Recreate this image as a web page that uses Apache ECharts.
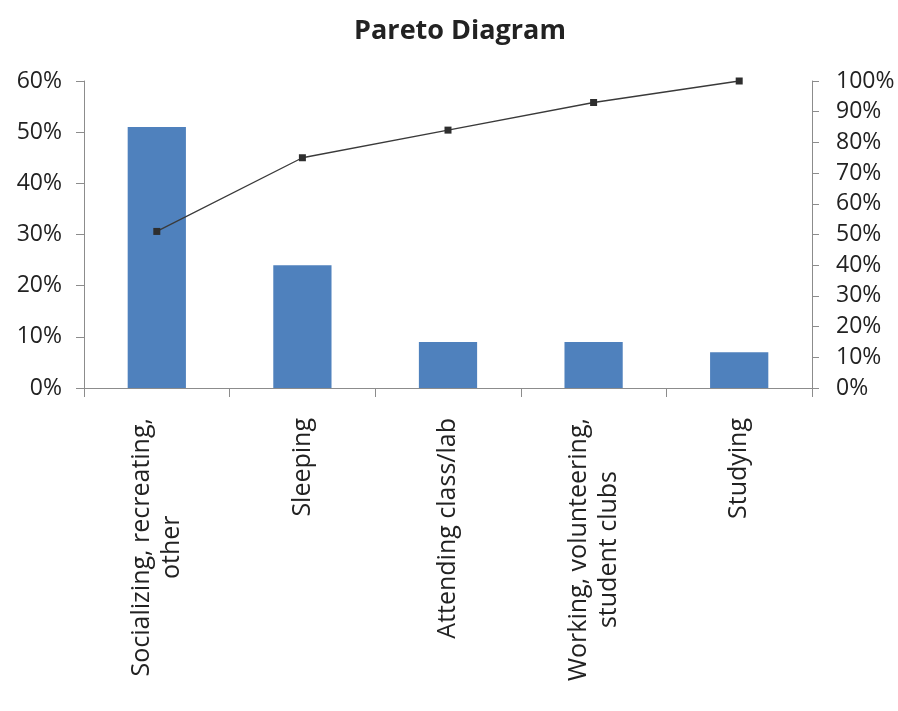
<!DOCTYPE html>
<html>
<head>
    <meta charset="UTF-8" />
    <title>Pareto Diagram</title>
    <script src="https://cdn.jsdelivr.net/npm/echarts@6/dist/echarts.min.js"></script>
    <style>
        html, body { margin: 0; padding: 0; background: #fff; }
        #main { width: 898px; height: 711px; }
    </style>
</head>
<body>
    <div id="main"></div>
    <script>
    // categories (multi-line labels as in the picture)
    var categories = [
        'Socializing, recreating,\nother',
        'Sleeping',
        'Attending class/lab',
        'Working, volunteering,\nstudent clubs',
        'Studying'
    ];
    // share of time, percent
    var shareValues = [51, 24, 9, 9, 7];
    // cumulative percent
    var cumulativeValues = [51, 75, 84, 93, 100];

    var axisGray = '#8c8c8c';
    var textColor = '#222';
    var fontFam = '"Open Sans", "Liberation Sans", sans-serif';

    var myChart = echarts.init(document.getElementById('main'));
    myChart.setOption({
        animation: false,
        backgroundColor: '#fff',
        title: {
            text: 'Pareto Diagram',
            left: 455,
            textAlign: 'center',
            top: 13,
            textStyle: { fontSize: 27, fontWeight: 'bold', color: textColor, fontFamily: fontFam }
        },
        grid: { left: 84, right: 86, top: 81, bottom: 323 },
        xAxis: {
            type: 'category',
            data: categories,
            axisLine: { lineStyle: { color: axisGray } },
            axisTick: { show: true, length: 9, lineStyle: { color: axisGray } },
            axisLabel: {
                interval: 0,
                rotate: 90,
                margin: 30,
                color: textColor,
                fontSize: 25,
                fontFamily: fontFam,
                formatter: function (v) {
                    return v.split('\n').map(function (s) { return '{c|' + s + '}'; }).join('\n');
                },
                rich: {
                    c: { align: 'center', fontSize: 25, color: textColor, fontFamily: fontFam, lineHeight: 30 }
                }
            }
        },
        yAxis: [{
            type: 'value',
            min: 0,
            max: 60,
            interval: 10,
            position: 'left',
            axisLine: { show: true, lineStyle: { color: axisGray } },
            axisTick: { show: true, length: 8, lineStyle: { color: axisGray } },
            splitLine: { show: false },
            axisLabel: { formatter: '{value}%', margin: 22, fontSize: 23, color: textColor, fontFamily: fontFam }
        }, {
            type: 'value',
            min: 0,
            max: 100,
            interval: 10,
            position: 'right',
            axisLine: { show: true, lineStyle: { color: axisGray } },
            axisTick: { show: true, length: 7, lineStyle: { color: axisGray } },
            splitLine: { show: false },
            axisLabel: { formatter: '{value}%', margin: 24, fontSize: 23, color: textColor, fontFamily: fontFam }
        }],
        series: [{
            name: 'Share',
            type: 'bar',
            data: shareValues,
            barWidth: '40%',
            itemStyle: { color: '#4F81BD' }
        }, {
            name: 'Cumulative',
            type: 'line',
            yAxisIndex: 1,
            data: cumulativeValues,
            symbol: 'rect',
            symbolSize: 7,
            lineStyle: { color: '#3a3a3a', width: 1.3 },
            itemStyle: { color: '#2e2e2e' }
        }]
    });
    </script>
</body>
</html>
